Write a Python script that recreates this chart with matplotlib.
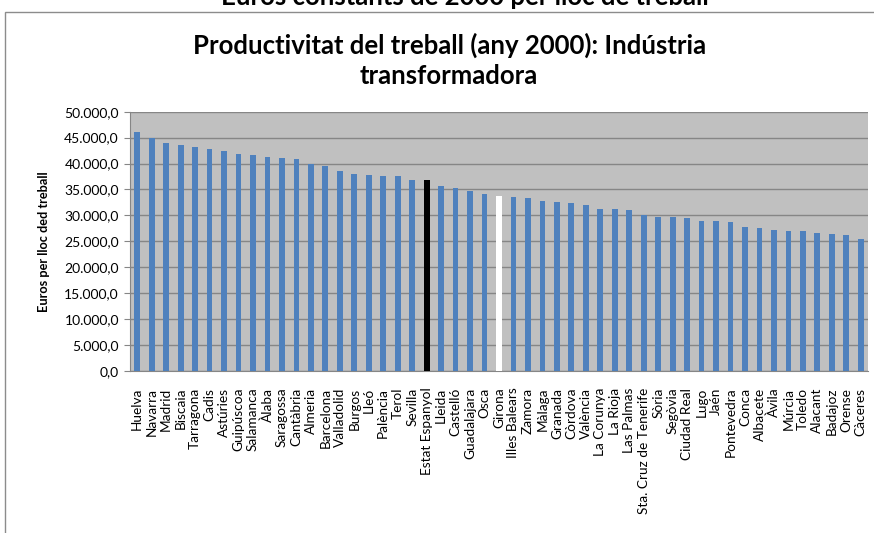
import numpy as np
import matplotlib.pyplot as plt
from matplotlib.patches import Rectangle

plt.rcParams['font.family'] = ['Lato', 'DejaVu Sans']

provincies = ['Huelva', 'Navarra', 'Madrid', 'Biscaia', 'Tarragona', 'Cadis', 'Astúries',
              'Guipúscoa', 'Salamanca', 'Àlaba', 'Saragossa', 'Cantàbria', 'Almeria',
              'Barcelona', 'Valladolid', 'Burgos', 'Lleó', 'Palència', 'Terol', 'Sevilla',
              'Estat Espanyol', 'Lleida', 'Castelló', 'Guadalajara', 'Osca', 'Girona',
              'Illes Balears', 'Zamora', 'Màlaga', 'Granada', 'Còrdova', 'València',
              'La Corunya', 'La Rioja', 'Las Palmas', 'Sta. Cruz de Tenerife', 'Sòria',
              'Segòvia', 'Ciudad Real', 'Lugo', 'Jaén', 'Pontevedra', 'Conca', 'Albacete',
              'Àvila', 'Múrcia', 'Toledo', 'Alacant', 'Badajoz', 'Orense', 'Càceres']

productivitat = [46100, 44900, 44000, 43550, 43100, 42850, 42400, 41750, 41650, 41250,
                 41000, 40800, 39850, 39600, 38500, 38000, 37800, 37600, 37550, 36900,
                 36900, 35650, 35200, 34750, 34050, 33750, 33600, 33350, 32700, 32650,
                 32400, 32000, 31300, 31250, 31050, 30150, 29700, 29650, 29450, 29000,
                 28950, 28750, 27850, 27550, 27100, 26950, 26900, 26650, 26400, 26150,
                 25500]

colors = ['#4F81BD'] * len(provincies)
colors[provincies.index('Estat Espanyol')] = '#000000'
colors[provincies.index('Girona')] = '#FFFFFF'

fig = plt.figure(figsize=(8.74, 5.33), dpi=100)
fig.patches.append(Rectangle((5 / 874, -0.1), 1.0, 1.1 - 12 / 533, transform=fig.transFigure,
                             fill=False, edgecolor='#8c8c8c', linewidth=1))

ax = fig.add_axes([130 / 874, 1 - 371 / 533, 738 / 874, (371 - 111.7) / 533])
ax.set_facecolor('#C0C0C0')
x = np.arange(len(provincies))
ax.bar(x, productivitat, width=0.4, color=colors, zorder=3)

ax.set_xlim(-0.5, len(provincies) - 0.5)
ax.set_ylim(0, 50000)
ax.set_yticks(np.arange(0, 50001, 5000))
ax.set_yticklabels([f'{v:,.1f}'.replace(',', 'X').replace('.', ',').replace('X', '.')
                    for v in np.arange(0, 50001, 5000)], fontsize=10)
ax.yaxis.grid(True, color='#868686', linewidth=1, zorder=1)
ax.set_xticks(x)
ax.set_xticklabels(provincies, rotation=90, fontsize=9.8)
ax.tick_params(axis='x', length=0, pad=12)
ax.tick_params(axis='y', length=4, color='#868686', pad=4)
for s in ['top', 'right']:
    ax.spines[s].set_visible(False)
for s in ['left', 'bottom']:
    ax.spines[s].set_color('#868686')

ax.set_ylabel('Euros per lloc ded treball', fontsize=9.2, fontweight='bold', labelpad=10)

fig.text(0.532, 1 - 5 / 533, 'Euros constants de 2000 per lloc de treball', ha='center',
         va='baseline', fontsize=18.5, fontweight='bold')
fig.text(0.514, 1 - 60 / 533, 'Productivitat del treball (any 2000): Indústria\ntransformadora',
         ha='center', va='center', fontsize=18.5, fontweight='bold', linespacing=1.3)

fig.savefig('out.png', dpi=100)
